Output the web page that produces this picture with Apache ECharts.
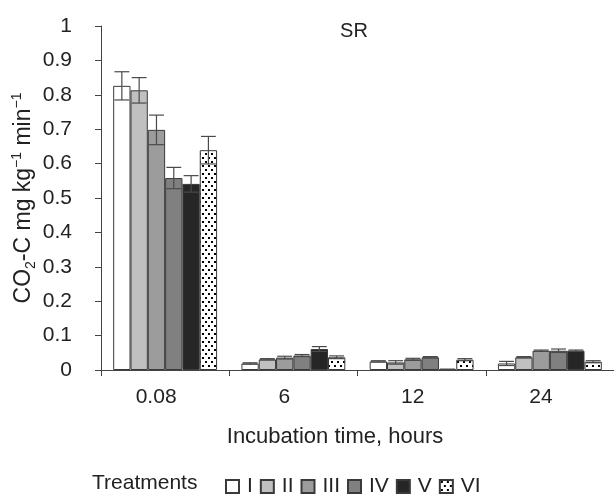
<!DOCTYPE html>
<html><head><meta charset="utf-8">
<script src="https://cdn.jsdelivr.net/npm/echarts@6/dist/echarts.min.js"></script>
<style>html,body{margin:0;padding:0;background:#fff}#c{width:614px;height:498px}</style>
</head><body><div id="c"></div>
<script>
// ---- data ----
const categories = ['0.08', '6', '12', '24'];
const treatmentNames = ['I', 'II', 'III', 'IV', 'V', 'VI'];
const meanI   = [0.826, 0.019, 0.025, 0.019];
const meanII  = [0.813, 0.031, 0.022, 0.037];
const meanIII = [0.698, 0.036, 0.031, 0.056];
const meanIV  = [0.558, 0.042, 0.037, 0.056];
const meanV   = [0.541, 0.061, 0.002, 0.056];
const meanVI  = [0.639, 0.037, 0.030, 0.024];
const errI    = [0.041, 0.002, 0.002, 0.006];
const errII   = [0.037, 0.002, 0.005, 0.002];
const errIII  = [0.043, 0.004, 0.003, 0.002];
const errIV   = [0.031, 0.003, 0.002, 0.005];
const errV    = [0.024, 0.007, 0.000, 0.002];
const errVI   = [0.040, 0.004, 0.003, 0.003];
const yTicks  = ['0', '0.1', '0.2', '0.3', '0.4', '0.5', '0.6', '0.7', '0.8', '0.9', '1'];

const means = [meanI, meanII, meanIII, meanIV, meanV, meanVI];
const errs = [errI, errII, errIII, errIV, errV, errVI];

// dotted pattern
const pc = document.createElement('canvas');
pc.width = 6; pc.height = 8;
const px = pc.getContext('2d');
px.fillStyle = '#fff'; px.fillRect(0, 0, 6, 8);
px.fillStyle = '#000';
px.fillRect(1, 1, 2, 2);
px.fillRect(4, 5, 2, 2);

const fills = ['#ffffff', '#c0c0c0', '#9c9c9c', '#808080', '#262626', {image: pc, repeat: 'repeat'}];
const FONT = "'Liberation Sans', Arial, sans-serif";
const GAP = 0.19;

const series = [];
treatmentNames.forEach((n, s) => {
  series.push({
    name: n, type: 'bar', data: means[s],
    barGap: '0%', barCategoryGap: (GAP * 100) + '%',
    itemStyle: {color: fills[s], borderColor: '#3a3a3a', borderWidth: 1},
    emphasis: {disabled: true}, animation: false
  });
});
treatmentNames.forEach((n, s) => {
  series.push({
    type: 'custom', animation: false, z: 5, silent: true,
    data: means[s].map((m, i) => [i, m, errs[s][i]]),
    encode: {x: 0, y: 1},
    renderItem: (params, api) => {
      const ci = api.value(0), m = api.value(1), e = api.value(2);
      const base = api.coord([ci, m]);
      const band = api.size([1, 0])[0];
      const groupW = band * (1 - GAP);
      const barW = groupW / 6;
      const cx = base[0] - groupW / 2 + (s + 0.5) * barW;
      const yt = api.coord([ci, m + e])[1];
      const yb = api.coord([ci, Math.max(0, m - e)])[1];
      const hw = barW * 0.43;
      const st = {stroke: '#4a4a4a', lineWidth: 1.2};
      return {type: 'group', children: [
        {type: 'line', shape: {x1: cx, y1: yt, x2: cx, y2: yb}, style: st},
        {type: 'line', shape: {x1: cx - hw, y1: yt, x2: cx + hw, y2: yt}, style: st},
        {type: 'line', shape: {x1: cx - hw, y1: yb, x2: cx + hw, y2: yb}, style: st}
      ]};
    }
  });
});

const chart = echarts.init(document.getElementById('c'), null, {renderer: 'canvas'});
chart.setOption({
  animation: false,
  textStyle: {fontFamily: FONT},
  grid: {left: 101, right: 0, top: 26, bottom: 128, containLabel: false, outerBoundsMode: 'none'},
  xAxis: {
    type: 'category', data: categories,
    axisLine: {lineStyle: {color: '#444', width: 1}},
    axisTick: {show: true, length: 6, lineStyle: {color: '#444'}},
    axisLabel: {color: '#222', fontSize: 21, margin: 17, fontFamily: FONT, padding: [0, 18, 0, 0]},
    splitLine: {show: false}
  },
  yAxis: {
    type: 'value', min: 0, max: 1, interval: 0.1,
    axisLine: {show: true, lineStyle: {color: '#444', width: 1}},
    axisTick: {show: true, length: 6, lineStyle: {color: '#444'}},
    axisLabel: {color: '#222', fontSize: 21, margin: 29, fontFamily: FONT,
      formatter: (v) => yTicks[Math.round(v * 10)]},
    splitLine: {show: false},
    name: '{n|CO}{sub|2}{n|-C mg kg}{sup|\u22121}{n| min}{sup|\u22121}',
    nameLocation: 'middle', nameGap: 63, nameRotate: 90, nameMoveOverlap: false,
    nameTextStyle: {
      color: '#222', fontFamily: FONT,
      rich: {
        n: {fontSize: 23, lineHeight: 28, fontFamily: FONT, color: '#222'},
        sub: {fontSize: 14, lineHeight: 13, verticalAlign: 'bottom', fontFamily: FONT, color: '#222'},
        sup: {fontSize: 14, lineHeight: 13, verticalAlign: 'top', fontFamily: FONT, color: '#222'}
      }
    }
  },
  legend: {
    data: treatmentNames, left: 225, top: 476, padding: 0,
    itemWidth: 13, itemHeight: 13, itemGap: 7, icon: 'rect',
    textStyle: {fontSize: 21, color: '#222', fontFamily: FONT, padding: [0, 0, 0, 3]},
    selectedMode: false
  },
  graphic: [
    {type: 'text', x: 354, y: 31, style: {text: 'SR', fill: '#222', font: '20px ' + FONT, textAlign: 'center', textVerticalAlign: 'middle'}},
    {type: 'text', x: 335, y: 437, style: {text: 'Incubation time, hours', fill: '#222', font: '22px ' + FONT, textAlign: 'center', textVerticalAlign: 'middle'}},
    {type: 'text', x: 92, y: 483, style: {text: 'Treatments', fill: '#222', font: '21px ' + FONT, textAlign: 'left', textVerticalAlign: 'middle'}}
  ],
  series: series
});
</script></body></html>
